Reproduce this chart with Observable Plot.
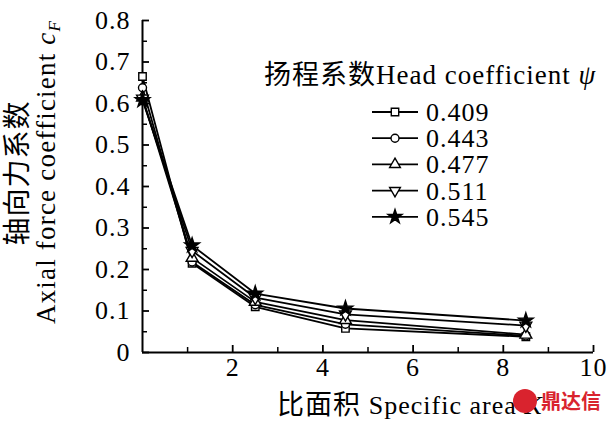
<!DOCTYPE html>
<html>
<head>
<meta charset="utf-8">
<script src="https://cdn.jsdelivr.net/npm/d3@7"></script>
<script src="https://cdn.jsdelivr.net/npm/@observablehq/plot@0.6"></script>
<style>
  html, body { margin: 0; padding: 0; background: #fff; }
  #chart { position: relative; width: 611px; height: 423px; }
</style>
</head>
<body>
<div id="chart"></div>
<script>
// ---- data ----
const specificArea = [0, 1.1, 2.5, 4.5, 8.5];
const headCoefficients = ["0.409", "0.443", "0.477", "0.511", "0.545"];
const cf0409 = [0.665, 0.215, 0.110, 0.058, 0.038];
const cf0443 = [0.638, 0.218, 0.115, 0.068, 0.040];
const cf0477 = [0.614, 0.228, 0.122, 0.078, 0.043];
const cf0511 = [0.612, 0.245, 0.132, 0.092, 0.065];
const cf0545 = [0.608, 0.258, 0.142, 0.106, 0.077];
const yTicks = [0, 0.1, 0.2, 0.3, 0.4, 0.5, 0.6, 0.7, 0.8];
const yMinor = [0.05, 0.15, 0.25, 0.35, 0.45, 0.55, 0.65, 0.75];
const xTicks = [2, 4, 6, 8, 10];
const xMinor = [1, 3, 5, 7, 9];

const seriesValues = [cf0409, cf0443, cf0477, cf0511, cf0545];
const rows = [];
headCoefficients.forEach((h, i) => {
  specificArea.forEach((k, j) => rows.push({series: h, k, cf: seriesValues[i][j]}));
});
const bySeries = h => rows.filter(r => r.series === h);

const W = 611, H = 423;
const M = {left: 142, right: 18, top: 20, bottom: 71};
const plotW = W - M.left - M.right, plotH = H - M.top - M.bottom;
const serif = "'Times New Roman', 'Liberation Serif', Times, 'Noto Sans CJK SC', serif";

const dotStyle = {x: "k", y: "cf", r: 4, stroke: "black", strokeWidth: 1.4, fill: "white"};

const chart = Plot.plot({
  width: W, height: H,
  marginLeft: M.left, marginRight: M.right, marginTop: M.top, marginBottom: M.bottom,
  style: {fontFamily: serif, fontSize: "26px", color: "black", background: "white", letterSpacing: "1px"},
  x: {domain: [0, 10]},
  y: {domain: [0, 0.8]},
  marks: [
    Plot.axisY(yTicks, {tickSize: 0, tickPadding: 12, label: null,
      tickFormat: d => d === 0 ? "0" : d.toFixed(1), fontSize: 26, fontFamily: serif, fill: "black"}),
    Plot.axisX(xTicks, {tickSize: 0, tickPadding: 5, label: null, fontSize: 26, fontFamily: serif, fill: "black"}),
    Plot.tickY(yTicks, {y: d => d, stroke: "black", strokeWidth: 1.8, insetRight: plotW - 7}),
    Plot.tickY(yMinor, {y: d => d, stroke: "black", strokeWidth: 1.5, insetRight: plotW - 5}),
    Plot.tickX(xTicks, {x: d => d, stroke: "black", strokeWidth: 1.8, insetTop: plotH - 7}),
    Plot.tickX(xMinor, {x: d => d, stroke: "black", strokeWidth: 1.5, insetTop: plotH - 5}),
    Plot.ruleX([0], {stroke: "black", strokeWidth: 2}),
    Plot.ruleY([0], {stroke: "black", strokeWidth: 2}),
    Plot.line(rows, {x: "k", y: "cf", z: "series", stroke: "black", strokeWidth: 1.8}),
    Plot.dot(bySeries("0.409"), {...dotStyle, symbol: "square", r: 4.2}),
    Plot.dot(bySeries("0.443"), {...dotStyle, symbol: "circle"}),
    Plot.dot(bySeries("0.477"), {...dotStyle, symbol: "triangle", r: 4.4}),
    Plot.dot(bySeries("0.511"), {...dotStyle, symbol: "triangle", r: 4.4, rotate: 180}),
    Plot.dot(bySeries("0.545"), {...dotStyle, symbol: "star", r: 4.6, fill: "black"})
  ]
});

document.getElementById("chart").appendChild(chart);

// ---- titles, legend, watermark (drawn into the Plot SVG) ----
const svg = d3.select(chart);

// y-axis title (two lines, rotated)
const yt = svg.append("g").attr("font-family", serif).attr("fill", "black").attr("text-anchor", "middle");
yt.append("text").attr("transform", "translate(27,173) rotate(-90)")
  .attr("font-size", 28).attr("letter-spacing", 1).text("轴向力系数");
const yEn = yt.append("text").attr("transform", "translate(55,172) rotate(-90)")
  .attr("font-size", 27).attr("letter-spacing", 1.2);
yEn.append("tspan").text("Axial force coefficient ");
yEn.append("tspan").attr("font-style", "italic").text("c");
yEn.append("tspan").attr("font-style", "italic").attr("font-size", 17).attr("dy", 5).text("F");

// x-axis title
const xt = svg.append("text").attr("x", 277).attr("y", 414).attr("font-family", serif)
  .attr("text-anchor", "start").attr("font-size", 26).attr("fill", "black").attr("letter-spacing", 1);
xt.append("tspan").attr("font-size", 27).text("比面积 ");
xt.append("tspan").text("Specific area ");
xt.append("tspan").attr("font-style", "italic").text("K");

// legend
const lg = svg.append("g").attr("font-family", serif).attr("fill", "black").attr("text-anchor", "start");
const lt = lg.append("text").attr("x", 264).attr("y", 84).attr("font-size", 27).attr("letter-spacing", 1);
lt.append("tspan").text("扬程系数Head coefficient ");
lt.append("tspan").attr("font-style", "italic").text("ψ");
const symbols = [d3.symbolSquare, d3.symbolCircle, d3.symbolTriangle, d3.symbolTriangle, d3.symbolStar];
const symSizes = [55, 50, 50, 50, 60];
headCoefficients.forEach((h, i) => {
  const cy = 112 + i * 26.2;
  const g = lg.append("g");
  g.append("line").attr("x1", 372).attr("x2", 418).attr("y1", cy).attr("y2", cy)
    .attr("stroke", "black").attr("stroke-width", 1.8);
  g.append("path").attr("d", d3.symbol(symbols[i], symSizes[i])())
    .attr("transform", `translate(395,${cy})` + (i === 3 ? " rotate(180)" : ""))
    .attr("fill", i === 4 ? "black" : "white").attr("stroke", "black").attr("stroke-width", 1.4);
  g.append("text").attr("x", 426).attr("y", cy + 9).attr("font-size", 26).attr("letter-spacing", 1).text(h);
});

// watermark
const wm = svg.append("g");
wm.append("circle").attr("cx", 525).attr("cy", 401).attr("r", 12).attr("fill", "#d9232e");
wm.append("text").attr("x", 541).attr("y", 409).attr("text-anchor", "start").attr("font-size", 20)
  .attr("letter-spacing", 0).attr("font-weight", "bold").attr("fill", "#d9232e")
  .attr("font-family", "'Noto Sans CJK SC', sans-serif").text("鼎达信");
</script>
</body>
</html>
